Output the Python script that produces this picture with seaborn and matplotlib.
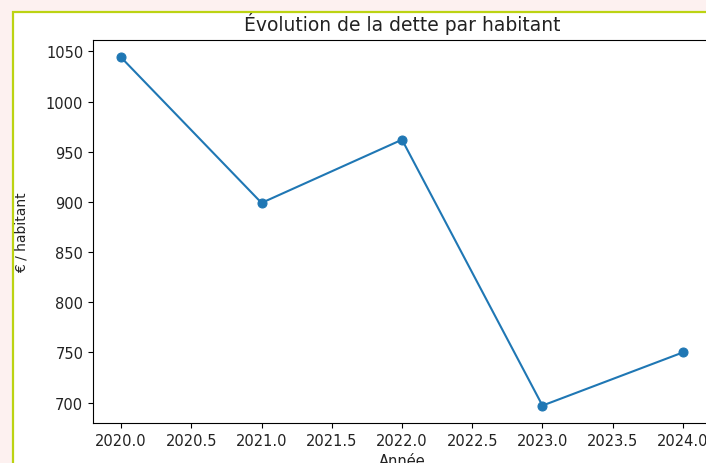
import matplotlib
matplotlib.use("Agg")
import matplotlib.pyplot as plt
import seaborn as sns
import pandas as pd
from matplotlib.patches import Rectangle

# Données : dette par habitant
annees = [2020, 2021, 2022, 2023, 2024]
dette_par_habitant = [1044, 899, 962, 697, 750]

df = pd.DataFrame({"Année": annees, "€ / habitant": dette_par_habitant})

W, H = 706, 464
fig = plt.figure(figsize=(W / 100, H / 100), dpi=100, facecolor="#fdf1f0")

# cadre blanc avec bordure jaune-vert (capture d'écran)
fig.patches.append(Rectangle((12.5 / W, -0.05), 1.2, (H - 12.5) / H + 0.05,
                             transform=fig.transFigure, facecolor="white",
                             edgecolor="#bcd312", linewidth=1.6, zorder=-1))

ax = fig.add_axes([93 / W, 40 / H, (711 - 93) / W, (424 - 41) / H])
ax.set_facecolor("white")

sns.lineplot(data=df, x="Année", y="€ / habitant", marker="o", color="#1f77b4",
             markeredgecolor="#1f77b4", markersize=6.5, linewidth=1.5, ax=ax)

ax.set_title("Évolution de la dette par habitant", fontsize=13.5, pad=7, color="#222222")
ax.set_xlabel("Année", fontsize=10.5, color="#222222")
ax.set_ylabel("€ / habitant", fontsize=10, labelpad=12.5, color="#222222")
ax.tick_params(labelsize=10.5, labelcolor="#222222")

fig.savefig("out.png", dpi=100, facecolor=fig.get_facecolor())
